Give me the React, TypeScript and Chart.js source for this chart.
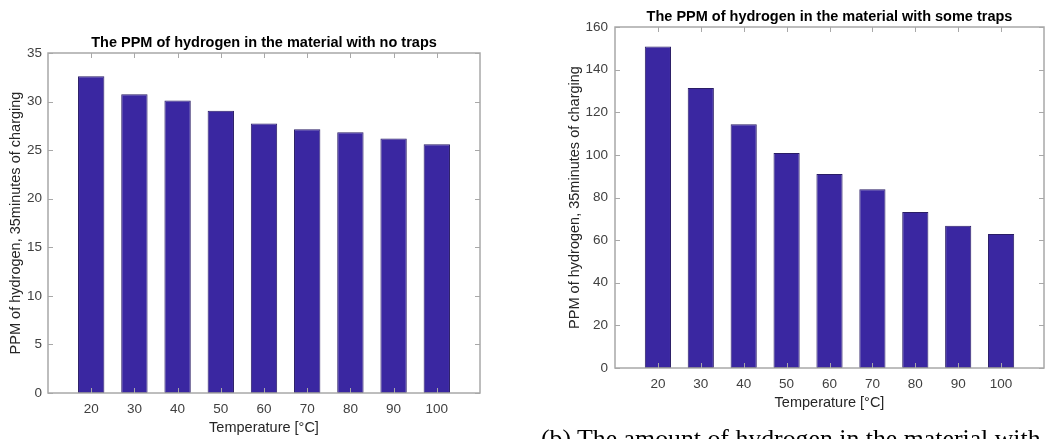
import React, { useEffect, useRef } from "react";
import { Chart, registerables } from "chart.js";

Chart.register(...registerables);

// ---- data ----
const temperatures = [20, 30, 40, 50, 60, 70, 80, 90, 100];
const ppmNoTraps = [32.6, 30.75, 30.1, 29.05, 27.75, 27.15, 26.85, 26.2, 25.6];
const ppmSomeTraps = [150.9, 131.4, 114.4, 100.9, 91.0, 83.9, 73.2, 66.8, 62.9];
const leftYTicks = [0, 5, 10, 15, 20, 25, 30, 35];
const rightYTicks = [0, 20, 40, 60, 80, 100, 120, 140, 160];

const titleNoTraps = "The PPM of hydrogen in the material with no traps";
const titleSomeTraps = "The PPM of hydrogen in the material with some traps";
const xLabel = "Temperature [°C]";
const yLabel = "PPM of hydrogen, 35minutes of charging";
const caption = "(b) The amount of hydrogen in the material with";

const FONT = "'Liberation Sans', Arial, Helvetica, sans-serif";
const BAR_COLOR = "#3a27a1";
const BOX_COLOR = "#a8a8a8";
const TITLE_SIZE = 14.5;
const LABEL_SIZE = 14.5;
const TICK_SIZE = 13.5;

const boxPlugin = {
  id: "matlabBox",
  afterDatasetsDraw(chart: any) {
    const { ctx, chartArea } = chart;
    const { left, right, top, bottom } = chartArea;
    const xs = chart.scales.x;
    const ys = chart.scales.y;
    const tl = 5;
    ctx.save();
    ctx.strokeStyle = BOX_COLOR;
    ctx.lineWidth = 1;
    ctx.beginPath();
    xs.ticks.forEach((t: any) => {
      const px = Math.round(xs.getPixelForValue(t.value)) + 0.5;
      ctx.moveTo(px, top);
      ctx.lineTo(px, top + tl);
      ctx.moveTo(px, bottom);
      ctx.lineTo(px, bottom - tl);
    });
    ys.ticks.forEach((t: any) => {
      const py = Math.round(ys.getPixelForValue(t.value)) + 0.5;
      ctx.moveTo(left, py);
      ctx.lineTo(left + tl, py);
      ctx.moveTo(right, py);
      ctx.lineTo(right - tl, py);
    });
    ctx.stroke();
    ctx.lineWidth = 1.5;
    ctx.strokeRect(left, top, right - left, bottom - top);
    ctx.restore();
  },
};

type Cfg = {
  width: number;
  height: number;
  values: number[];
  yTicks: number[];
  title: string;
  titlePadTop: number;
  titlePadBottom: number;
  padding: { left: number; right: number; top: number; bottom: number };
  yWidth: number;
  xHeight: number;
  yTickPad: number;
  yTitlePad: number;
  xTitlePad: number;
};

function BarPanel({ cfg }: { cfg: Cfg }) {
  const ref = useRef<HTMLCanvasElement>(null);
  useEffect(() => {
    if (!ref.current) return;
    const yMin = cfg.yTicks[0];
    const yMax = cfg.yTicks[cfg.yTicks.length - 1];
    const chart = new Chart(ref.current, {
      type: "bar",
      data: {
        datasets: [
          {
            data: temperatures.map((t, i) => ({ x: t, y: cfg.values[i] })),
            backgroundColor: BAR_COLOR,
            borderColor: "#2a1d66",
            borderWidth: 1,
            borderSkipped: false,
            barPercentage: 0.61,
            categoryPercentage: 1,
          } as any,
        ],
      },
      options: {
        animation: false,
        responsive: false,
        events: [],
        layout: { padding: cfg.padding },
        plugins: {
          legend: { display: false },
          tooltip: { enabled: false },
          title: {
            display: true,
            text: cfg.title,
            fullSize: false,
            color: "#000000",
            font: { family: FONT, size: TITLE_SIZE, weight: "bold", lineHeight: 1.2 },
            padding: { top: cfg.titlePadTop, bottom: cfg.titlePadBottom },
          },
        },
        scales: {
          x: {
            type: "linear",
            min: 10,
            max: 110,
            offset: false,
            afterBuildTicks: (s: any) => {
              s.ticks = temperatures.map((v) => ({ value: v }));
            },
            afterFit: (s: any) => {
              s.height = cfg.xHeight;
            },
            grid: { display: false, drawTicks: false, tickLength: 0 },
            border: { display: false },
            ticks: {
              color: "#404040",
              font: { family: FONT, size: TICK_SIZE },
              padding: 8,
              maxRotation: 0,
              autoSkip: false,
              callback: (v: any) => String(v),
            },
            title: {
              display: true,
              text: xLabel,
              color: "#262626",
              font: { family: FONT, size: LABEL_SIZE, lineHeight: 1.2 },
              padding: { top: 0, bottom: cfg.xTitlePad },
            },
          },
          y: {
            type: "linear",
            min: yMin,
            max: yMax,
            afterBuildTicks: (s: any) => {
              s.ticks = cfg.yTicks.map((v) => ({ value: v }));
            },
            afterFit: (s: any) => {
              s.width = cfg.yWidth;
            },
            grid: { display: false, drawTicks: false, tickLength: 0 },
            border: { display: false },
            ticks: {
              color: "#404040",
              font: { family: FONT, size: TICK_SIZE },
              padding: cfg.yTickPad,
              callback: (v: any) => String(v),
            },
            title: {
              display: true,
              text: yLabel,
              color: "#262626",
              font: { family: FONT, size: LABEL_SIZE, lineHeight: 1.2 },
              padding: { top: cfg.yTitlePad, bottom: 0 },
            },
          },
        },
      },
      plugins: [boxPlugin],
    } as any);
    return () => chart.destroy();
  }, [cfg]);
  return (
    <canvas
      ref={ref}
      width={cfg.width}
      height={cfg.height}
      style={{ width: cfg.width, height: cfg.height, display: "block" }}
    />
  );
}

const leftCfg: Cfg = {
  width: 520,
  height: 439,
  values: ppmNoTraps,
  yTicks: leftYTicks,
  title: titleNoTraps,
  titlePadTop: 34.3,
  titlePadBottom: 1.3,
  padding: { left: 0, right: 40, top: 0, bottom: 0 },
  yWidth: 48,
  xHeight: 46,
  yTickPad: 6,
  yTitlePad: 7.3,
  xTitlePad: 2.3,
};

const rightCfg: Cfg = {
  width: 526,
  height: 439,
  values: ppmSomeTraps,
  yTicks: rightYTicks,
  title: titleSomeTraps,
  titlePadTop: 8.5,
  titlePadBottom: 1.1,
  padding: { left: 0, right: 2, top: 0, bottom: 26 },
  yWidth: 95,
  xHeight: 45,
  yTickPad: 7,
  yTitlePad: 46.3,
  xTitlePad: 1.3,
};

export default function App() {
  return (
    <div
      style={{
        position: "fixed",
        left: 0,
        top: 0,
        width: 1046,
        height: 439,
        background: "#ffffff",
        overflow: "hidden",
      }}
    >
      <div style={{ position: "absolute", left: 0, top: 0 }}>
        <BarPanel cfg={leftCfg} />
      </div>
      <div style={{ position: "absolute", left: 520, top: 0 }}>
        <BarPanel cfg={rightCfg} />
      </div>
      <div
        style={{
          position: "absolute",
          left: 541,
          top: 425.5,
          whiteSpace: "nowrap",
          fontFamily: "'Liberation Serif', 'DejaVu Serif', serif",
          fontSize: 25.8,
          lineHeight: 1,
          color: "#000",
        }}
      >
        {caption}
      </div>
    </div>
  );
}
